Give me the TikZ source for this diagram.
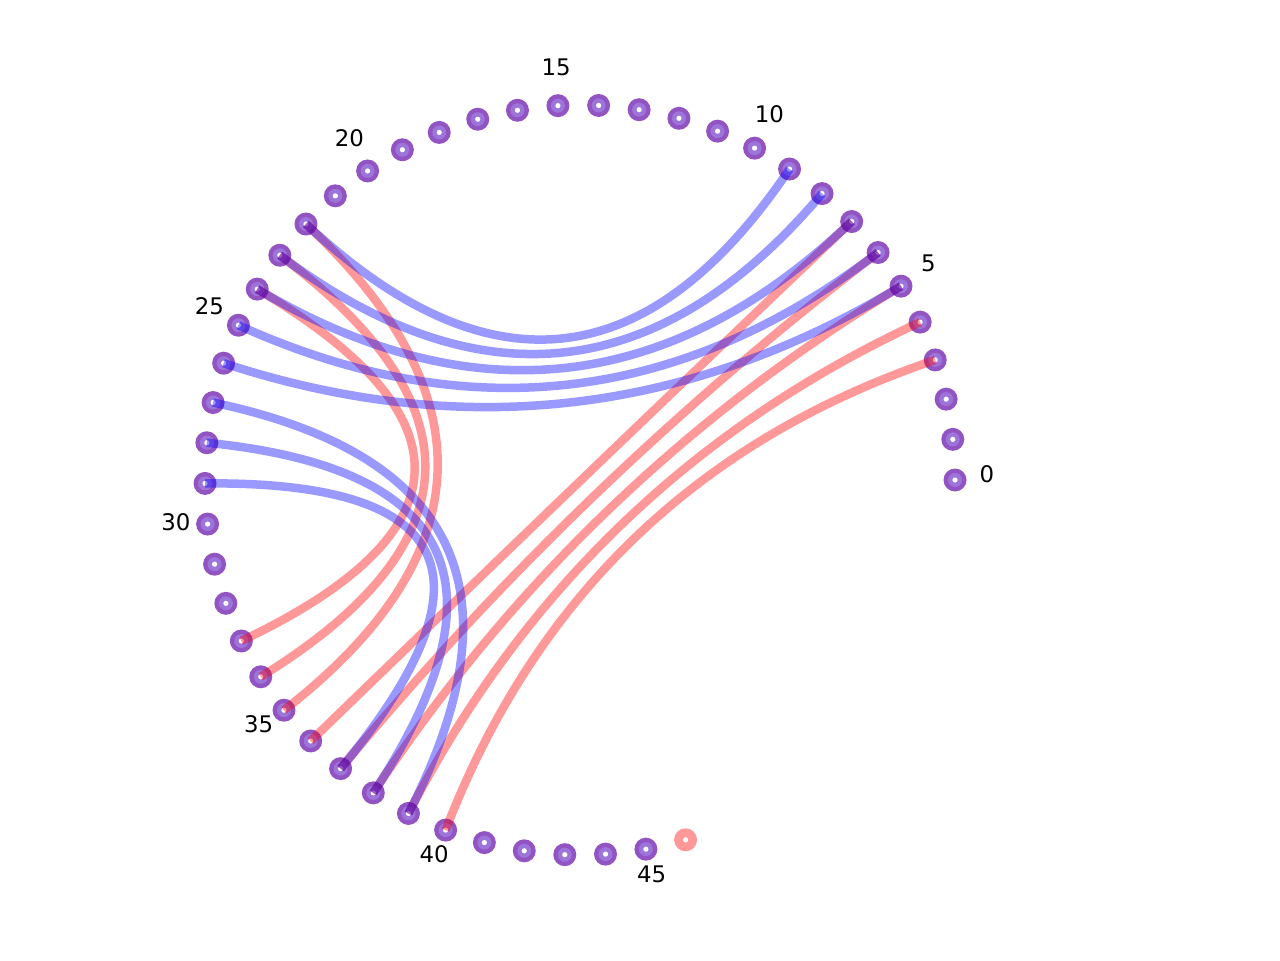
\documentclass[tikz,border=0pt]{standalone}
\usepackage{fontspec}
\setmainfont{DejaVu Sans}
\usetikzlibrary{calc}
\definecolor{vertout}{RGB}{146,84,194}
\definecolor{vertin}{RGB}{157,117,218}
\definecolor{vertred}{RGB}{255,153,153}
\tikzset{
  vert/.style={circle,fill=vertout,minimum size=0.46cm,inner sep=0pt},
  chord/.style={to path={.. controls ($(\tikztostart)!2/3!(O)$) and ($(\tikztotarget)!2/3!(O)$) .. (\tikztotarget)}},
  lbl/.style={font=\fontsize{13}{15}\selectfont,inner sep=0pt}
}
\begin{document}
\begin{tikzpicture}[x=0.02cm,y=0.02cm,
  bluechord/.style={draw=blue,draw opacity=.4,line width=0.17cm,chord},
  redchord/.style={draw=red,draw opacity=.4,line width=0.17cm,chord}]
\def\ang{6.225}
\useasboundingbox (-580,-480) rectangle (700,480);
\coordinate (O) at (0,0);
% vertices on the circle
\foreach \i in {0,...,45}{
  \node[vert] (n\i) at (\i*\ang:375) {};
  \fill[vertin] (n\i) circle (7);
  \fill[white] (n\i) circle (2.6);
}
\node[vert,fill=vertred] (n46) at (46*\ang:375) {};
\fill[white] (n46) circle (2.6);
\foreach \i in {0,5,...,45}
  \node[lbl] (l\i) at ($(\i*\ang:407)+(0,6)$) {\i};
% chords
\foreach \a/\b in {3/40,4/39,5/38,6/37,7/36,22/35,23/34,24/33}
  \path (n\a.center) edge[redchord] (n\b.center);
\foreach \a/\b in {9/22,8/23,7/24,6/25,5/26,27/39,28/38,29/37}
  \path (n\a.center) edge[bluechord] (n\b.center);
\end{tikzpicture}
\end{document}
